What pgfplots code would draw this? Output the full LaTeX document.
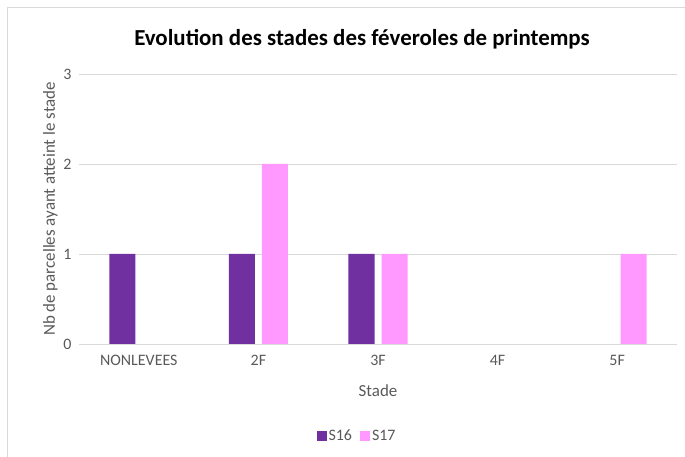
\documentclass[border=0pt]{standalone}
\usepackage{pgfplots}
\pgfplotsset{compat=1.18}
\usepackage{fontspec}
\setmainfont{Carlito}
\definecolor{sS}{HTML}{7030A0}
\definecolor{sT}{HTML}{FF99FF}
\definecolor{gridc}{HTML}{D9D9D9}
\definecolor{txt}{HTML}{595959}
\begin{document}
\begin{tikzpicture}
\useasboundingbox (0,0) rectangle (685bp,457bp);
\draw[gridc, line width=1bp] (7bp,0) -- (7bp,449bp) -- (685bp,449bp);
\node[font=\fontsize{23}{27}\selectfont\bfseries] at (362bp,418bp) {Evolution des stades des féveroles de printemps};
\begin{axis}[
  at={(79bp,113bp)}, anchor=south west,
  scale only axis, width=598bp, height=270bp,
  ybar, bar width=26bp,
  xmin=-0.5, xmax=4.5, ymin=0, ymax=3,
  xtick={0,1,2,3,4},
  xticklabels={NONLEVEES,2F,3F,4F,5F},
  ytick={0,1,2,3},
  ymajorgrids, grid style={gridc, line width=0.9bp},
  axis x line*=bottom, axis y line*=left,
  y axis line style={draw=none},
  x axis line style={gridc, line width=0.9bp},
  major tick length=0pt,
  tick label style={font=\fontsize{16}{18}\selectfont, text=txt},
  /pgf/number format/assume math mode=true,
  xticklabel style={yshift=-8bp},
  yticklabel style={xshift=-4bp},
  xlabel={Stade}, xlabel style={font=\fontsize{17}{20}\selectfont, text=txt, yshift=-12bp},
  ylabel={Nb de parcelles ayant atteint le stade}, ylabel style={font=\fontsize{17}{20}\selectfont, text=txt, yshift=-1bp},
  legend style={at={(0.465,-0.34)}, anchor=center, draw=none, legend columns=2, font=\fontsize{16}{18}\selectfont, text=txt, /tikz/every even column/.append style={column sep=6bp}},
  legend image code/.code={\fill[#1] (0bp,-5bp) rectangle (10bp,5bp);},
  enlarge x limits=false,
]
\addplot[fill=sS, draw=none, bar shift=-16.5bp] coordinates {(0,1) (1,1) (2,1)};
\addplot[fill=sT, draw=none, bar shift=16.5bp] coordinates {(1,2) (2,1) (4,1)};
\legend{S16,S17}
\end{axis}
\end{tikzpicture}
\end{document}
